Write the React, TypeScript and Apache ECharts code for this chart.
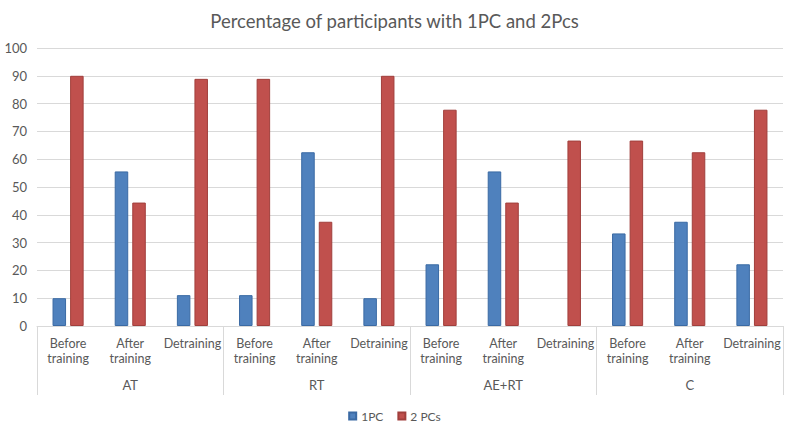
import React, { useEffect, useRef } from "react";
import * as echarts from "echarts";

const groups = ["AT", "RT", "AE+RT", "C"];
const phases = ["Before\ntraining", "After\ntraining", "Detraining"];
const categories = groups.flatMap((g) => phases.map((p) => p));
const onePC = [10, 55.6, 11.1, 11.1, 62.5, 10, 22.2, 55.6, 0, 33.3, 37.5, 22.2];
const twoPCs = [90, 44.4, 88.9, 88.9, 37.5, 90, 77.8, 44.4, 66.7, 66.7, 62.5, 77.8];
const yTicks = { min: 0, max: 100, interval: 10 };

const FONT = "Lato";
const TXT = "#595959";

const toData = (arr: number[]) =>
  arr.map((v) => (v === 0 ? { value: v, itemStyle: { borderWidth: 0 } } : v));

export default function App() {
  const ref = useRef<HTMLDivElement>(null);
  useEffect(() => {
    if (!ref.current) return;
    const chart = echarts.init(ref.current, null, { renderer: "svg" });
    chart.setOption({
      animation: false,
      backgroundColor: "#ffffff",
      textStyle: { fontFamily: FONT, color: TXT },
      title: {
        text: "Percentage of participants with 1PC and 2Pcs",
        left: "center",
        top: 6,
        textStyle: { fontFamily: FONT, fontSize: 18.5, fontWeight: "normal", color: TXT },
      },
      legend: {
        data: ["1PC", "2 PCs"],
        top: 405,
        left: "center",
        itemWidth: 7,
        itemHeight: 7,
        itemGap: 14,
        icon: "rect",
        textStyle: { fontFamily: FONT, fontSize: 12, color: TXT },
      },
      grid: { left: 37, right: 6, top: 48, bottom: 103, containLabel: false },
      xAxis: [
        {
          type: "category",
          data: categories,
          position: "bottom",
          axisLine: { show: true, lineStyle: { color: "#d9d9d9" } },
          axisTick: { show: false },
          axisLabel: {
            interval: 0,
            margin: 10,
            fontFamily: FONT,
            fontSize: 12.5,
            lineHeight: 15,
            color: TXT,
          },
          splitLine: { show: false },
        },
        {
          type: "category",
          data: groups,
          position: "bottom",
          axisLine: { show: false },
          axisTick: {
            show: true,
            length: 69,
            interval: 0,
            lineStyle: { color: "#d9d9d9" },
          },
          axisLabel: {
            interval: 0,
            margin: 52,
            fontFamily: FONT,
            fontSize: 13,
            color: TXT,
          },
          splitLine: { show: false },
        },
      ],
      yAxis: {
        type: "value",
        min: yTicks.min,
        max: yTicks.max,
        interval: yTicks.interval,
        axisLine: { show: false },
        axisTick: { show: false },
        axisLabel: { fontFamily: FONT, fontSize: 13, color: TXT, margin: 10 },
        splitLine: { lineStyle: { color: "#d9d9d9" } },
      },
      series: [
        {
          name: "1PC",
          type: "bar",
          data: toData(onePC),
          barCategoryGap: "50%",
          barGap: "30%",
          itemStyle: { color: "#4F81BD", borderColor: "#3A6AA4", borderWidth: 1 },
        },
        {
          name: "2 PCs",
          type: "bar",
          data: toData(twoPCs),
          barCategoryGap: "50%",
          barGap: "30%",
          itemStyle: { color: "#C0504D", borderColor: "#A13F3C", borderWidth: 1 },
        },
      ],
    });
    return () => chart.dispose();
  }, []);
  return (
    <div
      ref={ref}
      style={{ position: "fixed", left: 0, top: 0, width: 789, height: 429, background: "#fff" }}
    />
  );
}
